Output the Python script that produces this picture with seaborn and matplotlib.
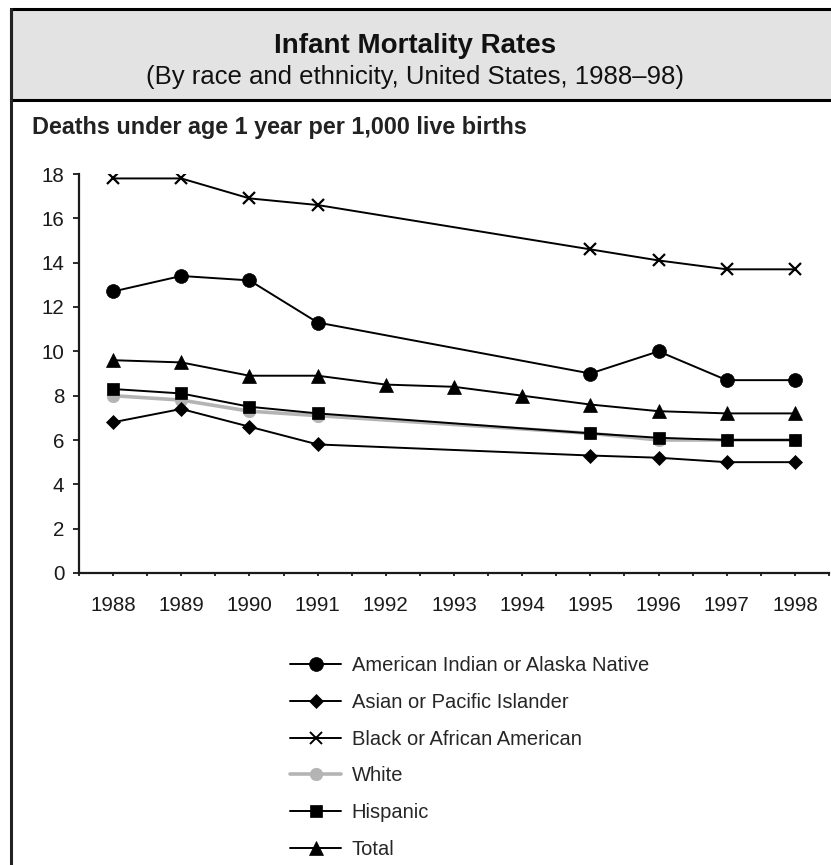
import numpy as np
import pandas as pd
import matplotlib
matplotlib.use('Agg')
import matplotlib.pyplot as plt
import seaborn as sns
from matplotlib.patches import Rectangle
from matplotlib.lines import Line2D

# Infant mortality rates, deaths under age 1 year per 1,000 live births
years_main = [1988, 1989, 1990, 1991, 1995, 1996, 1997, 1998]
years_total = [1988, 1989, 1990, 1991, 1992, 1993, 1994, 1995, 1996, 1997, 1998]

amer_indian = [12.7, 13.4, 13.2, 11.3, 9.0, 10.0, 8.7, 8.7]
asian_pi = [6.8, 7.4, 6.6, 5.8, 5.3, 5.2, 5.0, 5.0]
black = [17.8, 17.8, 16.9, 16.6, 14.6, 14.1, 13.7, 13.7]
white = [8.0, 7.8, 7.3, 7.1, 6.3, 6.0, 6.0, 6.0]
hispanic = [8.3, 8.1, 7.5, 7.2, 6.3, 6.1, 6.0, 6.0]
total = [9.6, 9.5, 8.9, 8.9, 8.5, 8.4, 8.0, 7.6, 7.3, 7.2, 7.2]

y_ticks = [0, 2, 4, 6, 8, 10, 12, 14, 16, 18]

sns.set_style('white')
plt.rcParams['font.family'] = ['Liberation Sans', 'DejaVu Sans']

W, H = 831, 865
fig = plt.figure(figsize=(W / 100, H / 100), dpi=100)
ax = fig.add_axes([79 / W, 1 - 573 / H, (829 - 79) / W, (573 - 174) / H])

# series: (label, years, values, marker, size, color, linewidth)
series = [
    ('White', years_main, white, 'o', 9, '#b4b4b4', 2.6),
    ('American Indian or Alaska Native', years_main, amer_indian, 'o', 10, 'black', 1.4),
    ('Asian or Pacific Islander', years_main, asian_pi, 'D', 7, 'black', 1.4),
    ('Black or African American', years_main, black, 'x', 9, 'black', 1.4),
    ('Hispanic', years_main, hispanic, 's', 9, 'black', 1.4),
    ('Total', years_total, total, '^', 10, 'black', 1.4),
]

handles = {}
for label, yrs, vals, mk, ms, col, lw in series:
    df = pd.DataFrame({'year': yrs, 'rate': vals})
    sns.lineplot(data=df, x='year', y='rate', ax=ax, color=col, marker=mk,
                 markersize=ms, linewidth=lw, markeredgecolor=col,
                 markeredgewidth=1.6 if mk == 'x' else 0.5, label=label,
                 legend=False)
    handles[label] = Line2D([], [], color=col, marker=mk, markersize=ms,
                            linewidth=lw, markeredgecolor=col,
                            markeredgewidth=1.4 if mk == 'x' else 0.5)

ax.set_xlim(1987.5, 1998.5)
ax.set_ylim(0, 18)
ax.set_yticks(y_ticks)
ax.set_xticks(years_total)
ax.set_xticks(np.arange(1987.5, 1999, 1.0), minor=True)
ax.set_xlabel('')
ax.set_ylabel('')
sns.despine(ax=ax)
for s in ['left', 'bottom']:
    ax.spines[s].set_linewidth(1.6)
    ax.spines[s].set_color('#1a1a1a')
ax.tick_params(axis='y', which='major', direction='out', length=4.5, width=1.3,
               labelsize=14.8, pad=6, left=True, colors='#1a1a1a')
ax.tick_params(axis='x', which='both', direction='out', length=2.5, width=1.3,
               labelsize=14.8, pad=14, bottom=True, colors='#1a1a1a')

order = ['American Indian or Alaska Native', 'Asian or Pacific Islander',
         'Black or African American', 'White', 'Hispanic', 'Total']
fig.legend([handles[k] for k in order], order, loc='upper left',
           bbox_to_anchor=(272 / W, 1 - 638 / H), frameon=False,
           fontsize=14.5, handlelength=2.55, handletextpad=0.5, labelspacing=0.88)

# title band and frame
fig.add_artist(Rectangle((11 / W, 1 - 100 / H), 1.0, 91 / H,
                         transform=fig.transFigure, facecolor='#e3e3e3',
                         edgecolor='black', linewidth=2.2, clip_on=False))
fig.add_artist(Line2D([11 / W, 11 / W], [0, 1 - 9 / H], transform=fig.transFigure,
                      color='#222222', linewidth=2.2))

fig.text(415 / W, 1 - 53 / H, 'Infant Mortality Rates', ha='center',
         va='baseline', fontsize=20, fontweight='bold', color='#111111')
fig.text(415 / W, 1 - 84 / H, '(By race and ethnicity, United States, 1988\u201398)',
         ha='center', va='baseline', fontsize=18.5, color='#111111')
fig.text(32 / W, 1 - 134 / H, 'Deaths under age 1 year per 1,000 live births',
         ha='left', va='baseline', fontsize=16.8, fontweight='bold', color='#222222')

fig.savefig('out.png', dpi=100)
